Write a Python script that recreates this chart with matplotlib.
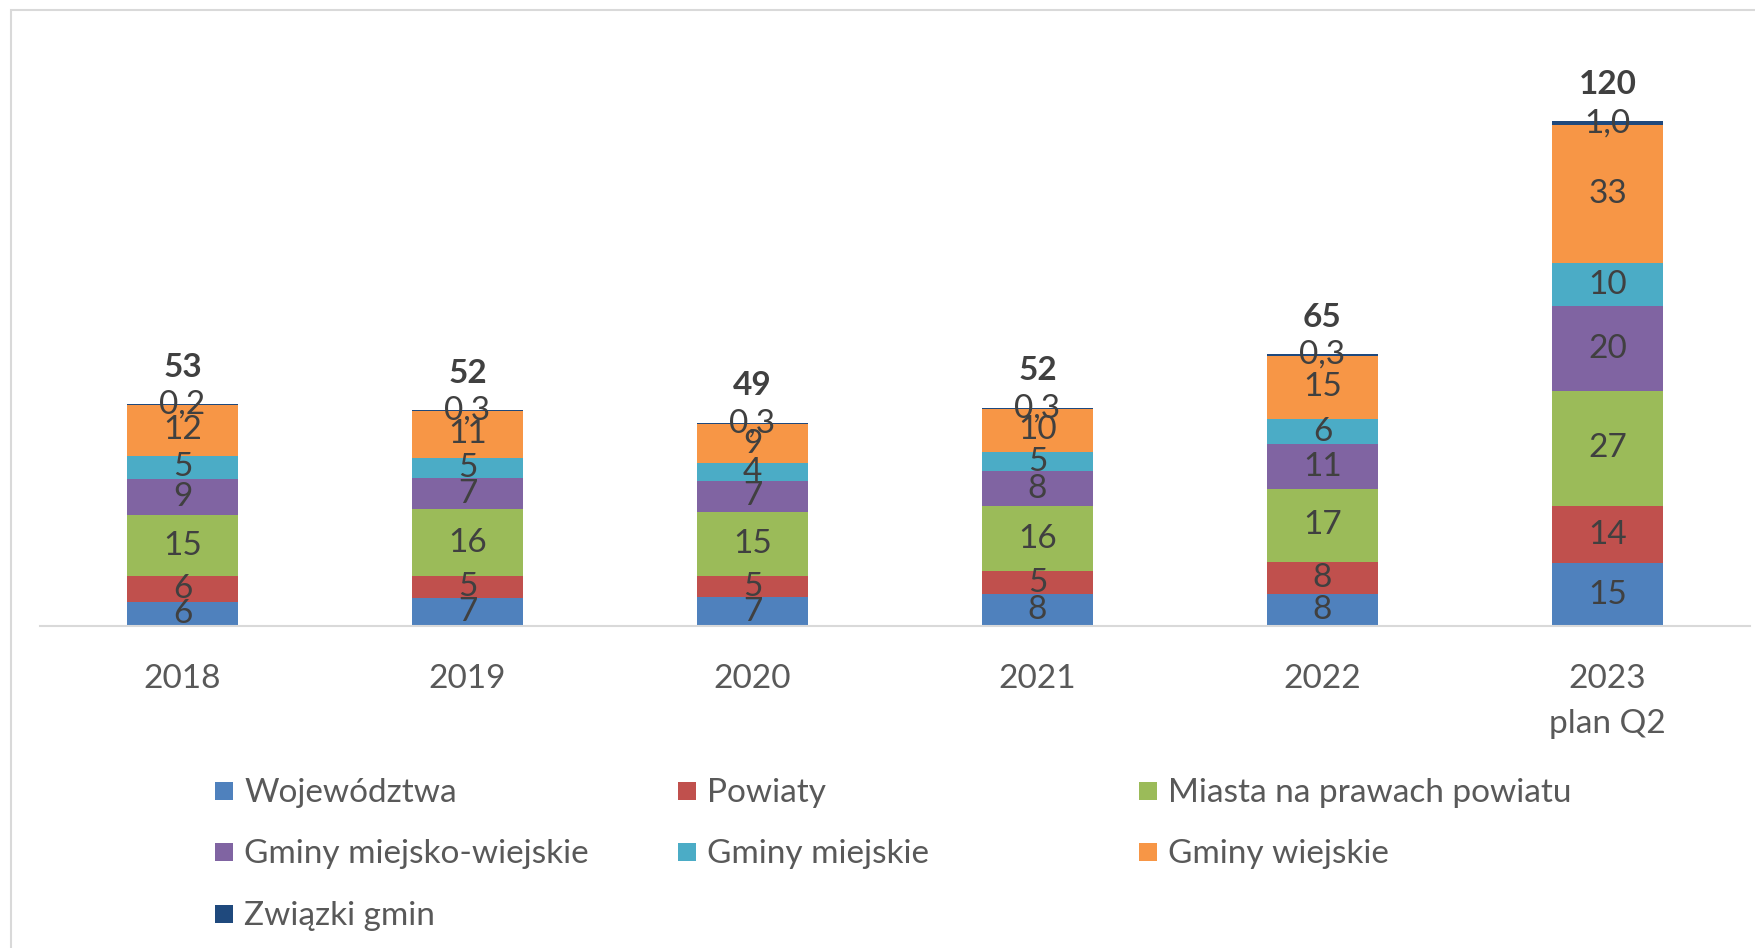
import matplotlib.pyplot as plt
import numpy as np
from matplotlib.patches import Rectangle

plt.rcParams["font.family"] = ["Lato", "DejaVu Sans"]

# ---- data ----
years = ["2018", "2019", "2020", "2021", "2022", "2023\nplan Q2"]
series = [
    "Województwa",
    "Powiaty",
    "Miasta na prawach powiatu",
    "Gminy miejsko-wiejskie",
    "Gminy miejskie",
    "Gminy wiejskie",
    "Związki gmin",
]
wojewodztwa = [5.6, 6.7, 6.8, 7.6, 7.6, 14.9]
powiaty = [6.2, 5.2, 5.1, 5.4, 7.7, 13.7]
miasta = [14.7, 15.9, 15.3, 15.6, 17.3, 27.4]
gminy_mw = [8.6, 7.4, 7.3, 8.2, 10.7, 20.1]
gminy_m = [5.4, 4.9, 4.2, 4.6, 5.9, 10.4]
gminy_w = [12.2, 11.0, 9.4, 10.3, 15.2, 32.7]
zwiazki = [0.2, 0.3, 0.3, 0.3, 0.3, 1.0]
totals = [53, 52, 49, 52, 65, 120]
label_decimals = [0, 0, 0, 0, 0, 0, 1]

colors = ["#4F81BD", "#C0504D", "#9BBB59", "#8064A2", "#4BACC6", "#F79646", "#1F497D"]
values = [wojewodztwa, powiaty, miasta, gminy_mw, gminy_m, gminy_w, zwiazki]

LABEL = "#404040"
TICK = "#595959"
GRID = "#d9d9d9"
FS = 24

fig = plt.figure(figsize=(17.56, 9.48), dpi=100)
W, H = 1756, 948

# plot area: baseline at y=626 px, x from 40 to 1750 px
ax = fig.add_axes([40 / W, 1 - 626 / H, (1750 - 40) / W, (626 - 60) / H])
x = np.arange(len(years))
bottom = np.zeros(len(years))
for name, vals, col, dec in zip(series, values, colors, label_decimals):
    vals = np.array(vals)
    bars = ax.bar(x, vals, width=0.39, bottom=bottom, color=col, linewidth=0)
    labels = [f"{v:.{dec}f}".replace(".", ",") for v in vals]
    ax.bar_label(bars, labels=labels, label_type="center",
                 fontsize=FS, color=LABEL)
    bottom += vals

for xi, top, tot in zip(x, bottom, totals):
    ax.annotate(str(tot), (xi, top), xytext=(0, 26.5), textcoords="offset points",
                ha="center", va="center", fontsize=FS, fontweight="bold",
                color=LABEL)

ax.set_xlim(-0.5, len(years) - 0.5)
ax.set_ylim(0, (626 - 60) / 4.2)
ax.set_yticks([])
ax.set_xticks(x)
ax.set_xticklabels(years, fontsize=FS, color=TICK, linespacing=1.6)
ax.tick_params(axis="x", length=0, pad=27.5)
for side in ["left", "right", "top"]:
    ax.spines[side].set_visible(False)
ax.spines["bottom"].set_color(GRID)
ax.spines["bottom"].set_linewidth(1.5)

# legend drawn as an Excel-style grid of equal columns
col_x = [215, 678, 1139]
row_y = [791, 852, 914]
for i, (name, col) in enumerate(zip(series, colors)):
    px = col_x[i % 3]
    py = row_y[i // 3]
    fig.add_artist(Rectangle((px / W, 1 - (py + 9) / H), 18 / W, 18 / H,
                             transform=fig.transFigure, facecolor=col,
                             edgecolor="none"))
    fig.text((px + 29) / W, 1 - (py + 2) / H, name, fontsize=FS, color=TICK,
             ha="left", va="center")

# chart frame (cropped at right and bottom)
fig.add_artist(Rectangle((11 / W, -0.1), 1.2, 1.1 - 10 / H,
                         transform=fig.transFigure, fill=False,
                         edgecolor=GRID, linewidth=1.5))

fig.savefig("out.png", dpi=100)
